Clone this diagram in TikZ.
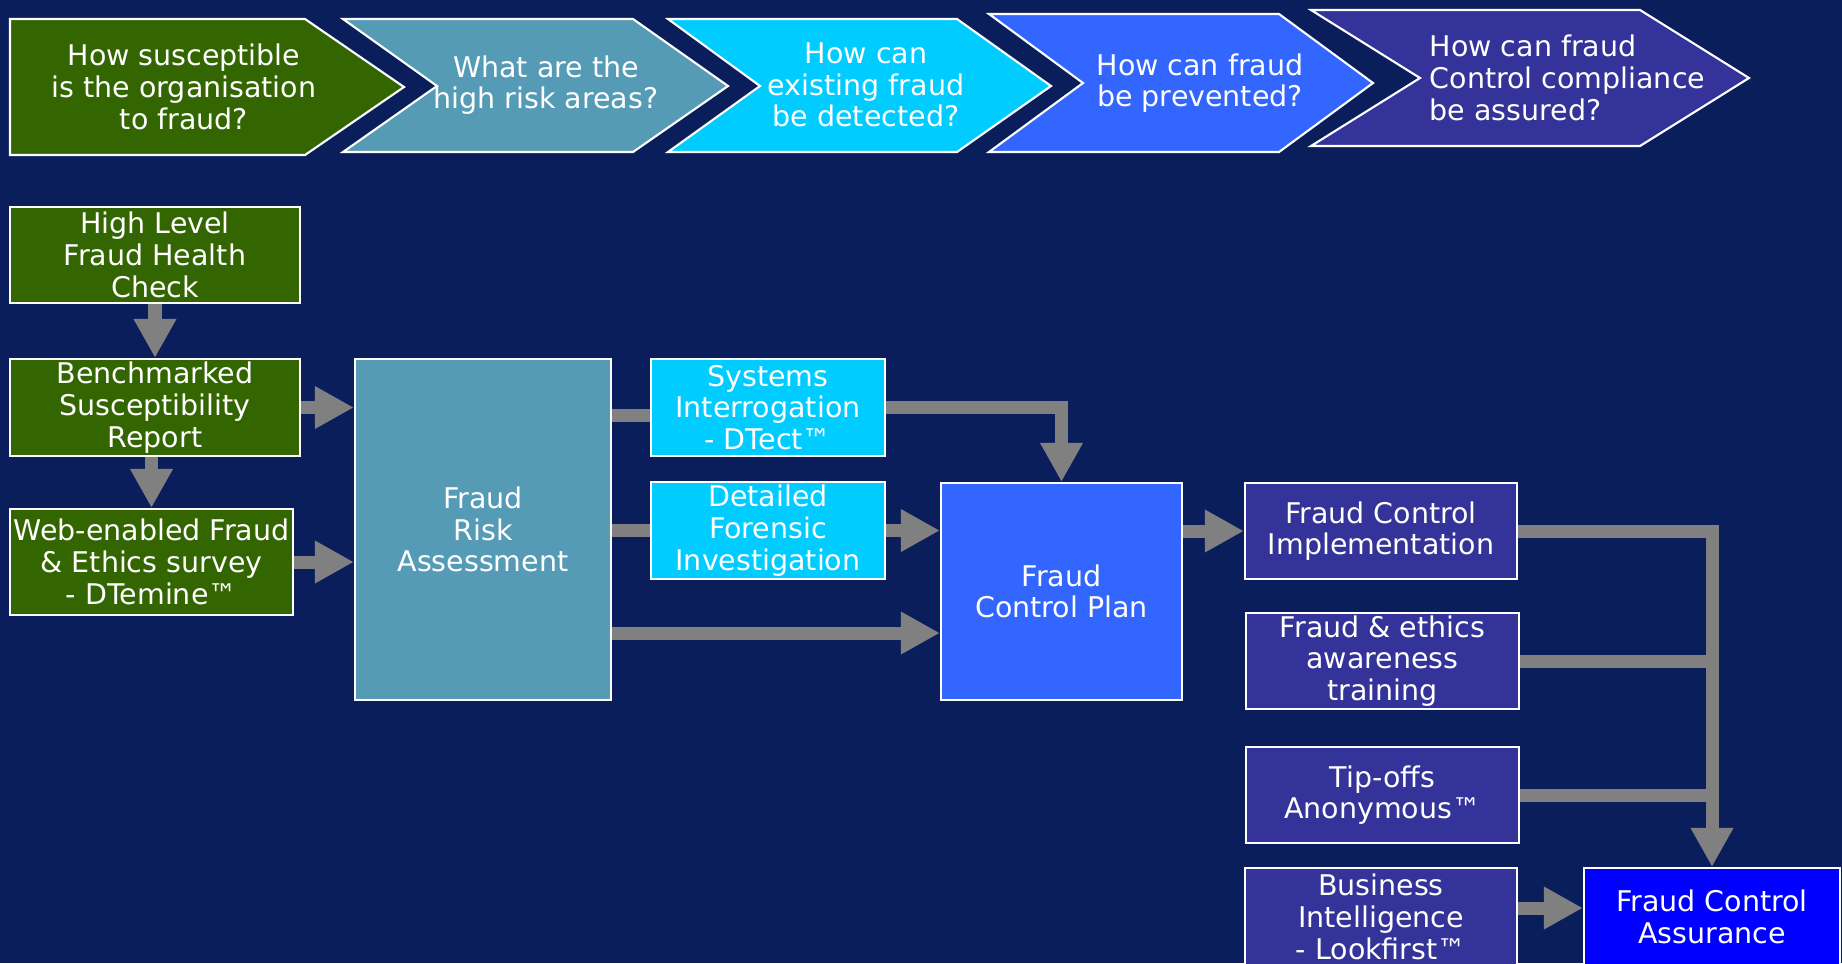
\documentclass[tikz,border=0pt]{standalone}
\usepackage{fontspec}
\setmainfont{DejaVu Sans}
\usepackage{tikz}
\usetikzlibrary{arrows.meta, positioning}

\definecolor{bgnavy}{HTML}{0B1E5C}
\definecolor{cgreen}{HTML}{336600}
\definecolor{csteel}{HTML}{569BB6}
\definecolor{ccyan}{HTML}{00CCFF}
\definecolor{cblue}{HTML}{3366FF}
\definecolor{cindigo}{HTML}{333399}
\definecolor{cpure}{HTML}{0000FF}
\definecolor{arrgray}{HTML}{808080}

\begin{document}
\begin{tikzpicture}[
  x=0.01cm, y=-0.01cm,
  chev/.style={draw=white, line width=0.6pt},
  qtext/.style={text=white, align=center, inner sep=0pt,
                font=\fontsize{8.1}{9}\selectfont},
  box/.style={draw=white, line width=0.6pt, inner sep=0pt,
              text=white, align=center,
              font=\fontsize{8.1}{9}\selectfont},
  arr/.style={draw=arrgray, line width=0.13cm,
              -{Triangle[length=0.39cm, width=0.40cm]}},
  bar/.style={draw=arrgray, line width=0.13cm}
]
  \useasboundingbox (0,0) rectangle (1842,963);
  \clip (0,0) rectangle (1842,963);
  \fill[bgnavy] (0,0) rectangle (1842,963);

  % question chevrons
  \draw[chev, fill=cgreen] (10,19) -- (305,19) -- (404,87) -- (305,155) -- (10,155) -- cycle;
  \draw[chev, fill=csteel] (343,19) -- (633,19) -- (728,86) -- (633,152) -- (343,152) -- (437,86) -- cycle;
  \draw[chev, fill=ccyan] (668,19) -- (957,19) -- (1051,86) -- (957,152) -- (668,152) -- (760,86) -- cycle;
  \draw[chev, fill=cblue] (989,14) -- (1279,14) -- (1373,83) -- (1279,152) -- (989,152) -- (1083,83) -- cycle;
  \draw[chev, fill=cindigo] (1311,10) -- (1640,10) -- (1749,78) -- (1640,146) -- (1311,146) -- (1420,78) -- cycle;

  \node[qtext] (q1) at (184,87)  {How susceptible\\is the organisation\\to fraud?};
  \node[qtext] (q2) at (546,85)  {What are the\\high risk areas?};
  \node[qtext] (q3) at (866,85)  {How can\\existing fraud\\be detected?};
  \node[qtext] (q4) at (1200,83) {How can fraud\\be prevented?};
  \node[qtext, align=left, anchor=west] (q5) at (1429,78) {How can fraud\\Control compliance\\ be assured?};

  % process boxes
  \node[box, fill=cgreen, minimum width=2.90cm, minimum height=0.96cm] (HL)  at (155,255)    {High Level\\Fraud Health\\Check};
  \node[box, fill=cgreen, minimum width=2.90cm, minimum height=0.97cm] (BSR) at (155,407.5)  {Benchmarked\\Susceptibility\\Report};
  \node[box, fill=cgreen, minimum width=2.83cm, minimum height=1.06cm] (WEB) at (151.5,562)  {Web-enabled Fraud\\\& Ethics survey\\- DTemine™};
  \node[box, fill=csteel, minimum width=2.56cm, minimum height=3.41cm] (FRA) at (483,529.5)  {Fraud\\Risk\\Assessment};
  \node[box, fill=ccyan, minimum width=2.34cm, minimum height=0.97cm] (SI)   at (768,407.5)  {Systems\\Interrogation\\- DTect™};
  \node[box, fill=ccyan, minimum width=2.34cm, minimum height=0.97cm] (DFI)  at (768,530.5)  {Detailed\\Forensic\\Investigation};
  \node[box, fill=cblue, minimum width=2.41cm, minimum height=2.17cm] (FCP)  at (1061.5,591.5) {Fraud\\Control Plan};
  \node[box, fill=cindigo, minimum width=2.72cm, minimum height=0.96cm] (FCI) at (1381,531)   {Fraud Control\\Implementation};
  \node[box, fill=cindigo, minimum width=2.73cm, minimum height=0.96cm] (FET) at (1382.5,661) {Fraud \& ethics\\awareness\\training};
  \node[box, fill=cindigo, minimum width=2.73cm, minimum height=0.96cm] (TOA) at (1382.5,795) {Tip-offs\\Anonymous™};
  \node[box, fill=cindigo, minimum width=2.72cm, minimum height=0.98cm] (BIL) at (1381,917)   {Business\\Intelligence\\- Lookfirst™};
  \node[box, fill=cpure, minimum width=2.56cm, minimum height=0.98cm] (FCA)   at (1712,917)   {Fraud Control\\Assurance};

  % connectors
  \draw[arr] (HL.south) -- (BSR.north);
  \draw[arr] (BSR.south -| WEB.north) -- (WEB.north);
  \draw[arr] (BSR.east) -- (FRA.west |- BSR.east);
  \draw[arr] (WEB.east) -- (FRA.west |- WEB.east);
  \draw[bar] (FRA.east |- 0,415) -- (SI.west |- 0,415);
  \draw[bar] (FRA.east |- DFI.west) -- (DFI.west);
  \draw[arr] (FRA.east |- 0,633) -- (FCP.west |- 0,633);
  \draw[arr] (SI.east) -| (FCP.north);
  \draw[arr] (DFI.east) -- (FCP.west |- DFI.east);
  \draw[arr] (FCP.east |- FCI.west) -- (FCI.west);
  \draw[arr] (FCI.east) -| (FCA.north);
  \draw[bar] (FET.east) -- (FET.east -| FCA.north);
  \draw[bar] (TOA.east) -- (TOA.east -| FCA.north);
  \draw[arr] (BIL.east |- 0,908) -- (FCA.west |- 0,908);
\end{tikzpicture}
\end{document}
